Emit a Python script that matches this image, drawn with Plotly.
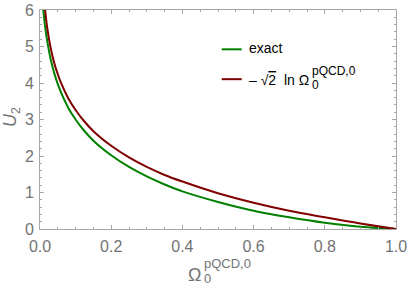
import plotly.graph_objects as go

# Data
omega = [0.008, 0.01, 0.015, 0.02, 0.03, 0.04, 0.05, 0.06, 0.08, 0.1, 0.12, 0.15,
         0.2, 0.25, 0.3, 0.35, 0.4, 0.5, 0.6, 0.7, 0.8, 0.9, 1.0]
u2_exact = [6.10, 5.93, 5.50, 5.17, 4.65, 4.27, 3.97, 3.72, 3.31, 3.00, 2.74, 2.42,
            2.02, 1.70, 1.44, 1.22, 1.03, 0.74, 0.50, 0.32, 0.17, 0.06, 0.0]
u2_log = [6.83, 6.51, 5.94, 5.53, 4.96, 4.55, 4.24, 3.98, 3.57, 3.26, 3.00, 2.68,
          2.28, 1.96, 1.70, 1.48, 1.30, 0.98, 0.72, 0.50, 0.32, 0.15, 0.0]
x_ticks = [0.0, 0.2, 0.4, 0.6, 0.8, 1.0]
x_tick_labels = ["0.0", "0.2", "0.4", "0.6", "0.8", "1.0"]
y_ticks = [0, 1, 2, 3, 4, 5, 6]

GREEN = "rgb(0,128,0)"
RED = "rgb(128,0,0)"
FRAME = "#a6a6a6"
TICKFONT = dict(family="Liberation Sans, Arial, sans-serif", size=16, color="#737373")

fig = go.Figure()
fig.add_trace(go.Scatter(x=omega, y=u2_exact, mode="lines", name="exact",
                         line=dict(color=GREEN, width=2, shape="spline"), showlegend=False))
fig.add_trace(go.Scatter(x=omega, y=u2_log, mode="lines", name="-sqrt2 ln",
                         line=dict(color=RED, width=2, shape="spline"), showlegend=False))

axis_common = dict(showgrid=False, zeroline=False, showline=True, linecolor=FRAME, linewidth=1,
                   mirror="ticks", ticks="inside", ticklen=4, tickcolor=FRAME, tickwidth=1,
                   tickfont=TICKFONT, automargin=False)
fig.update_xaxes(range=[0, 1], tickvals=x_ticks, ticktext=x_tick_labels, ticklabelstandoff=3,
                 minor=dict(ticks="inside", ticklen=2, tickcolor=FRAME, dtick=0.05),
                 **axis_common)
fig.update_yaxes(range=[0, 6], tickvals=y_ticks, ticklabelstandoff=2,
                 minor=dict(ticks="inside", ticklen=2, tickcolor=FRAME, dtick=0.2),
                 **axis_common)

W, H = 409, 286
L, R, T, B = 40, 12.5, 9.5, 56.5
pw, ph = W - L - R, H - T - B


def px(xp):
    return (xp - L) / pw


def py(yp):
    return (H - B - yp) / ph


TF = "Liberation Sans, Arial, sans-serif"
ann = []
# y axis title
ann.append(dict(x=px(11), y=py(117), xref="paper", yref="paper", text="<i>U</i><sub>2</sub>",
                textangle=-90, showarrow=False, xanchor="center", yanchor="middle",
                font=dict(family=TF, size=18, color="#737373")))
# x axis title: Omega with stacked sup/sub
ann.append(dict(x=px(203), y=py(276), xref="paper", yref="paper", text="Ω",
                showarrow=False, xanchor="right", yanchor="middle",
                font=dict(family=TF, size=18, color="#737373")))
ann.append(dict(x=px(202), y=py(264), xref="paper", yref="paper", text="pQCD,0",
                showarrow=False, xanchor="left", yanchor="middle",
                font=dict(family=TF, size=13, color="#737373")))
ann.append(dict(x=px(202), y=py(279), xref="paper", yref="paper", text="0",
                showarrow=False, xanchor="left", yanchor="middle",
                font=dict(family=TF, size=13, color="#737373")))
# legend texts
ann.append(dict(x=px(247), y=py(48), xref="paper", yref="paper", text="exact",
                showarrow=False, xanchor="left", yanchor="middle",
                font=dict(family=TF, size=14, color="black")))
ann.append(dict(x=px(247), y=py(80), xref="paper", yref="paper",
                text="– √<span style='text-decoration:overline'>2</span>  ln Ω",
                showarrow=False, xanchor="left", yanchor="middle",
                font=dict(family=TF, size=14, color="black")))
ann.append(dict(x=px(310), y=py(71), xref="paper", yref="paper", text="pQCD,0",
                showarrow=False, xanchor="left", yanchor="middle",
                font=dict(family=TF, size=12, color="black")))
ann.append(dict(x=px(310), y=py(85), xref="paper", yref="paper", text="0",
                showarrow=False, xanchor="left", yanchor="middle",
                font=dict(family=TF, size=12, color="black")))

shapes = [
    dict(type="line", xref="paper", yref="paper", x0=px(222), x1=px(242), y0=py(49), y1=py(49),
         line=dict(color=GREEN, width=2)),
    dict(type="line", xref="paper", yref="paper", x0=px(222), x1=px(242), y0=py(79), y1=py(79),
         line=dict(color=RED, width=2)),
]

fig.update_layout(width=W, height=H, margin=dict(l=L, r=R, t=T, b=B, autoexpand=False),
                  plot_bgcolor="white", paper_bgcolor="white",
                  annotations=ann, shapes=shapes, showlegend=False)

fig.write_html("out.html", config={"displayModeBar": False},
               post_script="document.body.style.margin='0px';")
